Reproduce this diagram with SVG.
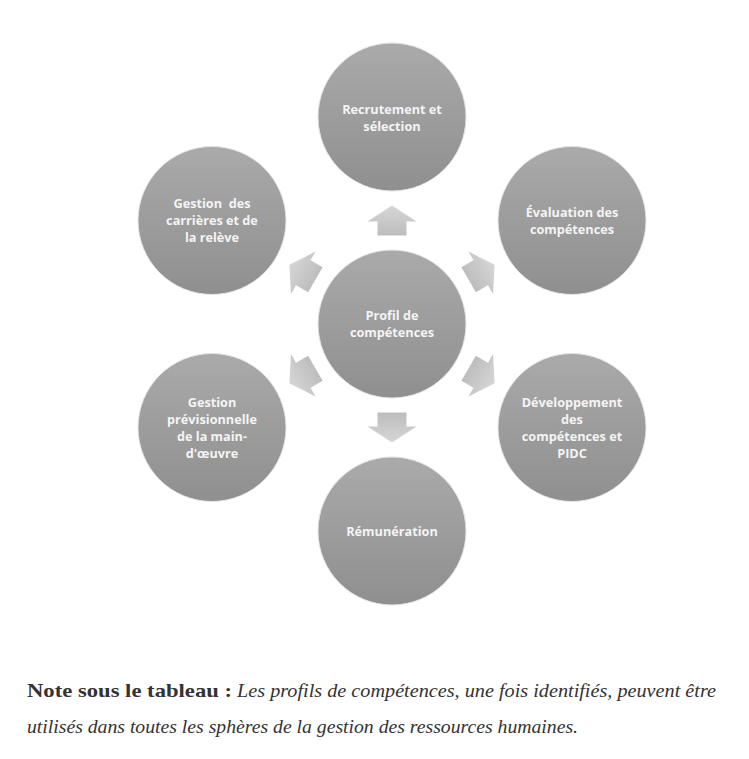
<svg xmlns="http://www.w3.org/2000/svg" width="749" height="759" viewBox="0 0 749 759">
<defs>
<linearGradient id="gc" x1="0" y1="0" x2="0" y2="1">
<stop offset="0" stop-color="#aaaaaa"/>
<stop offset="1" stop-color="#8f8f8f"/>
</linearGradient>
<linearGradient id="ga" x1="0" y1="0" x2="0" y2="1">
<stop offset="0" stop-color="#d6d6d6"/>
<stop offset="1" stop-color="#bdbdbd"/>
</linearGradient>
<path id="arr" d="M0,-15 L24.5,1 L14.5,1 L14.5,15 L-14.5,15 L-14.5,1 L-24.5,1 Z"/>
</defs>
<style>
.c{fill:url(#gc);stroke:#e4e4e4;stroke-width:1}
.t{font-family:"Open Sans","DejaVu Sans",sans-serif;font-weight:bold;font-size:12.7px;fill:#f4f4f4;text-anchor:middle}
.a{fill:url(#ga)}
.nb{font-family:"Liberation Serif",serif;font-weight:bold;font-size:19px;fill:#333}
.ni{font-family:"Liberation Serif",serif;font-style:italic;font-size:19px;fill:#333}
</style>
<rect width="749" height="759" fill="#ffffff"/>
<g id="connectors">
<use href="#arr" class="a" transform="translate(392,220.5) rotate(0)"/>
<use href="#arr" class="a" transform="translate(481.6,272.3) rotate(60)"/>
<use href="#arr" class="a" transform="translate(481.6,375.8) rotate(120)"/>
<use href="#arr" class="a" transform="translate(392,427.5) rotate(180)"/>
<use href="#arr" class="a" transform="translate(302.4,375.8) rotate(240)"/>
<use href="#arr" class="a" transform="translate(302.4,272.3) rotate(300)"/>
</g>
<g id="center">
<circle class="c" cx="392" cy="324" r="74"/>
<text class="t" x="392" y="320">Profil de</text>
<text class="t" x="392" y="337">compétences</text>
</g>
<g id="recrutement">
<circle class="c" cx="392" cy="117" r="74"/>
<text class="t" x="392" y="114">Recrutement et</text>
<text class="t" x="392" y="131">sélection</text>
</g>
<g id="evaluation">
<circle class="c" cx="572" cy="220.5" r="74"/>
<text class="t" x="572" y="217">Évaluation des</text>
<text class="t" x="572" y="234">compétences</text>
</g>
<g id="developpement">
<circle class="c" cx="572" cy="427.5" r="74"/>
<text class="t" x="572" y="407">Développement</text>
<text class="t" x="572" y="424">des</text>
<text class="t" x="572" y="441">compétences et</text>
<text class="t" x="572" y="458">PIDC</text>
</g>
<g id="remuneration">
<circle class="c" cx="392" cy="531" r="74"/>
<text class="t" x="392" y="536">Rémunération</text>
</g>
<g id="previsionnelle">
<circle class="c" cx="212" cy="427.5" r="74"/>
<text class="t" x="212" y="407">Gestion</text>
<text class="t" x="212" y="424">prévisionnelle</text>
<text class="t" x="212" y="441">de la main-</text>
<text class="t" x="212" y="458">d'œuvre</text>
</g>
<g id="carrieres">
<circle class="c" cx="212" cy="220.5" r="74"/>
<text class="t" x="212" y="208" xml:space="preserve">Gestion  des</text>
<text class="t" x="212" y="225">carrières et de</text>
<text class="t" x="212" y="242">la relève</text>
</g>
<g id="note">
<text class="nb" x="27" y="697" textLength="205" lengthAdjust="spacingAndGlyphs">Note sous le tableau :</text>
<text class="ni" x="237" y="697" textLength="479" lengthAdjust="spacingAndGlyphs">Les profils de compétences, une fois identifiés, peuvent être</text>
<text class="ni" x="27" y="733" textLength="551" lengthAdjust="spacingAndGlyphs">utilisés dans toutes les sphères de la gestion des ressources humaines.</text>
</g>
</svg>
